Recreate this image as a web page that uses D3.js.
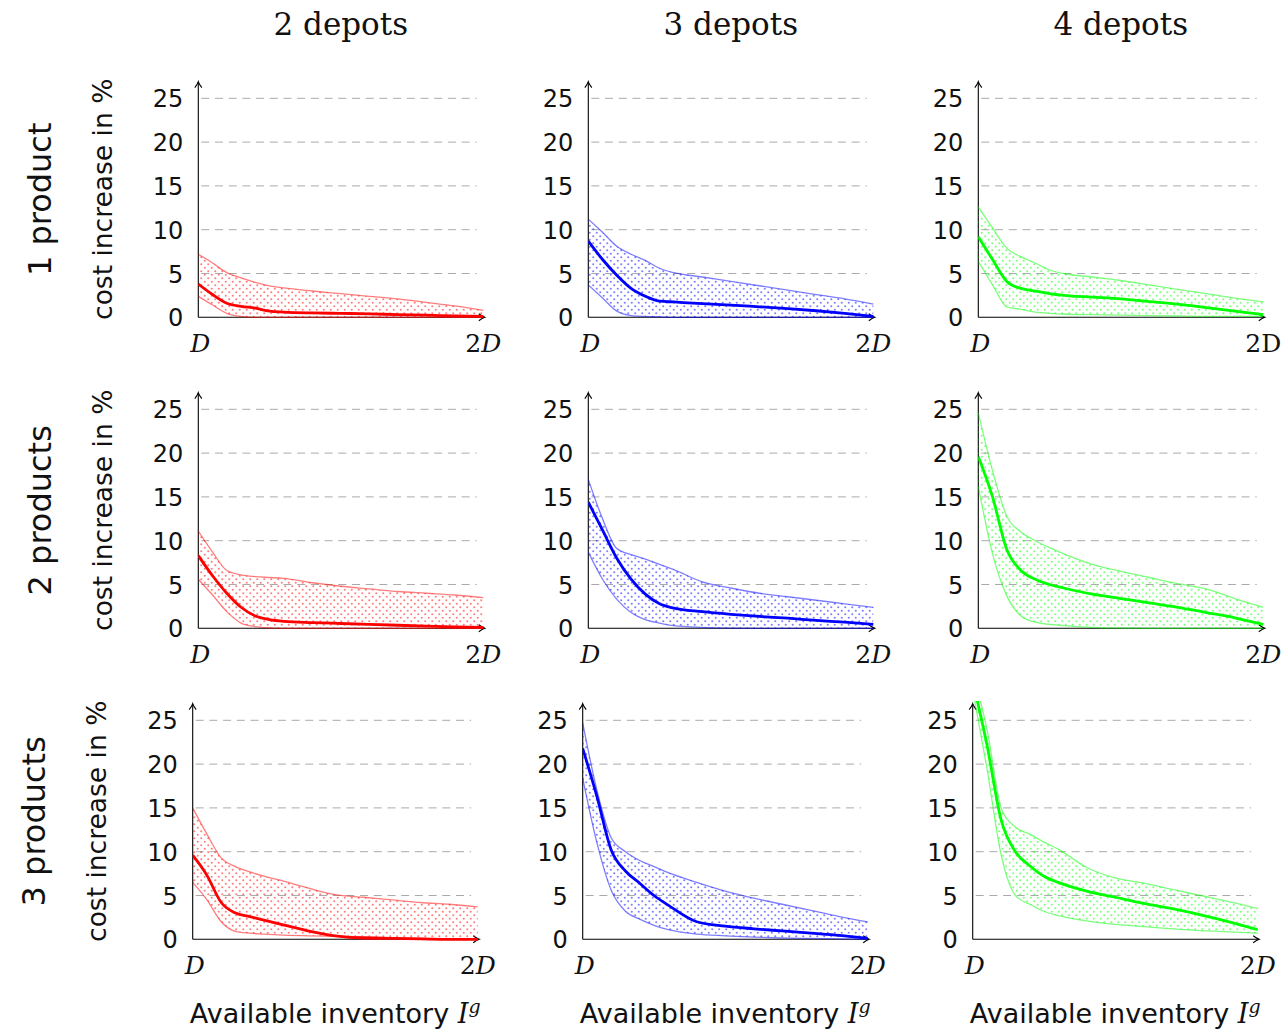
<!DOCTYPE html>
<html><head><meta charset="utf-8">
<script src="https://cdn.jsdelivr.net/npm/d3@7"></script>
<style>body{margin:0;background:#fff}svg{display:block}</style>
</head><body>
<svg id="c" width="1286" height="1036"></svg>
<script>
// ---------- data ----------
const xs = [0, 0.05, 0.1, 0.15, 0.2, 0.25, 0.3, 0.4, 0.5, 0.6, 0.7, 0.8, 0.9, 1];
const depotTitles = ["2 depots", "3 depots", "4 depots"];
const productLabels = ["1 product", "2 products", "3 products"];
const yTicks = [0, 5, 10, 15, 20, 25];
const xTickLabels = ["D", "2D"];
const depotColors = ["#ff0000", "#0000ff", "#00ff00"];

// 1 product
const upper_1p_2d = [7.2, 6.2, 5.1, 4.5, 4.0, 3.6, 3.35, 3.0, 2.7, 2.4, 2.1, 1.7, 1.3, 0.8];
const mean_1p_2d  = [3.8, 2.6, 1.6, 1.25, 1.05, 0.7, 0.6, 0.5, 0.45, 0.4, 0.3, 0.25, 0.15, 0.1];
const lower_1p_2d = [2.4, 1.4, 0.45, 0.1, 0, 0, 0, 0, 0, 0, 0, 0, 0, 0];
const upper_1p_3d = [11.2, 9.7, 8.1, 7.2, 6.5, 5.6, 5.1, 4.6, 4.1, 3.6, 3.1, 2.6, 2.1, 1.5];
const mean_1p_3d  = [8.7, 6.6, 4.8, 3.3, 2.4, 1.85, 1.75, 1.55, 1.4, 1.2, 1.0, 0.75, 0.45, 0.1];
const lower_1p_3d = [3.7, 2.2, 0.7, 0.2, 0.1, 0.05, 0, 0, 0, 0, 0, 0, 0, 0];
const upper_1p_4d = [12.6, 10.2, 7.9, 6.9, 6.2, 5.4, 5.0, 4.6, 4.2, 3.7, 3.2, 2.7, 2.2, 1.75];
const mean_1p_4d  = [9.2, 6.6, 4.1, 3.3, 3.0, 2.7, 2.5, 2.3, 2.1, 1.8, 1.5, 1.1, 0.7, 0.3];
const lower_1p_4d = [6.4, 3.7, 1.2, 0.9, 0.6, 0.45, 0.35, 0.3, 0.25, 0.2, 0.15, 0.1, 0.1, 0.1];
// 2 products
const upper_2p_2d = [11.1, 8.7, 6.6, 6.1, 5.9, 5.8, 5.7, 5.2, 4.8, 4.5, 4.2, 4.0, 3.8, 3.5];
const mean_2p_2d  = [8.3, 6.0, 4.0, 2.4, 1.4, 1.0, 0.8, 0.65, 0.55, 0.45, 0.35, 0.25, 0.15, 0.1];
const lower_2p_2d = [5.6, 3.8, 1.9, 0.6, 0.2, 0.05, 0, 0, 0, 0, 0, 0, 0, 0];
const upper_2p_3d = [17.0, 12.5, 9.1, 8.4, 7.9, 7.3, 6.7, 5.3, 4.6, 4.0, 3.6, 3.2, 2.8, 2.4];
const mean_2p_3d  = [14.4, 11.2, 8.0, 5.6, 3.9, 2.8, 2.3, 1.9, 1.6, 1.35, 1.15, 0.9, 0.7, 0.45];
const lower_2p_3d = [8.7, 5.6, 3.3, 1.8, 1.0, 0.6, 0.3, 0.1, 0.02, 0, 0, 0, 0, 0];
const upper_2p_4d = [24.6, 18.0, 12.8, 11.0, 10.0, 9.2, 8.5, 7.3, 6.5, 5.8, 5.1, 4.5, 3.4, 2.4];
const mean_2p_4d  = [19.6, 15.0, 9.0, 6.6, 5.6, 5.0, 4.6, 3.9, 3.4, 2.9, 2.4, 1.8, 1.2, 0.45];
const lower_2p_4d = [16.2, 8.5, 3.7, 1.4, 0.7, 0.45, 0.3, 0.1, 0.02, 0, 0, 0, 0, 0];
// 3 products
const upper_3p_2d = [15.0, 12.0, 9.3, 8.3, 7.7, 7.2, 6.8, 5.9, 5.1, 4.8, 4.5, 4.2, 4.0, 3.7];
const mean_3p_2d  = [9.6, 7.3, 4.2, 3.0, 2.6, 2.2, 1.8, 1.0, 0.4, 0.15, 0.1, 0.05, 0, 0];
const lower_3p_2d = [6.5, 4.5, 2.0, 0.9, 0.7, 0.6, 0.5, 0.4, 0.35, 0.3, 0.2, 0.1, 0.05, 0];
const upper_3p_3d = [24.7, 17.0, 11.6, 10.0, 9.0, 8.3, 7.6, 6.5, 5.5, 4.7, 4.0, 3.3, 2.6, 2.0];
const mean_3p_3d  = [21.8, 16.3, 10.2, 7.8, 6.4, 5.0, 3.9, 2.0, 1.5, 1.2, 0.95, 0.7, 0.45, 0.1];
const lower_3p_3d = [18.4, 11.0, 5.6, 3.2, 2.3, 1.6, 1.1, 0.6, 0.4, 0.25, 0.15, 0.1, 0.05, 0];
const upper_3p_4d = [30.5, 24.0, 15.0, 12.8, 12.0, 11.1, 10.3, 8.2, 7.0, 6.4, 5.7, 5.0, 4.3, 3.5];
const mean_3p_4d  = [29.5, 22.2, 13.6, 10.0, 8.4, 7.2, 6.5, 5.5, 4.8, 4.1, 3.5, 2.8, 2.0, 1.1];
const lower_3p_4d = [28.5, 19.5, 9.6, 5.0, 4.0, 3.2, 2.7, 2.1, 1.7, 1.45, 1.2, 1.0, 0.85, 0.7];

const panels = [
  {row:0,col:0,upper:upper_1p_2d,mean:mean_1p_2d,lower:lower_1p_2d},
  {row:0,col:1,upper:upper_1p_3d,mean:mean_1p_3d,lower:lower_1p_3d},
  {row:0,col:2,upper:upper_1p_4d,mean:mean_1p_4d,lower:lower_1p_4d,upright2D:true},
  {row:1,col:0,upper:upper_2p_2d,mean:mean_2p_2d,lower:lower_2p_2d},
  {row:1,col:1,upper:upper_2p_3d,mean:mean_2p_3d,lower:lower_2p_3d},
  {row:1,col:2,upper:upper_2p_4d,mean:mean_2p_4d,lower:lower_2p_4d},
  {row:2,col:0,upper:upper_3p_2d,mean:mean_3p_2d,lower:lower_3p_2d},
  {row:2,col:1,upper:upper_3p_3d,mean:mean_3p_3d,lower:lower_3p_3d},
  {row:2,col:2,upper:upper_3p_4d,mean:mean_3p_4d,lower:lower_3p_4d}
];

// ---------- layout ----------
const colX0 = [198.3, 588.3, 978.3];
const rowY0 = [317.3, 628.3, 939.3];
const rowShift = [0, 0, -5.6];
const plotW = 285;
const pxPerUnit = 8.76;
const yMax = 27.2;
const SANS = "'DejaVu Sans', sans-serif";
const SERIF = "'DejaVu Serif', serif";

const svg = d3.select("#c");
const defs = svg.append("defs");

depotColors.forEach((c, i) => {
  const p = defs.append("pattern").attr("id", "dots" + i)
    .attr("patternUnits", "userSpaceOnUse").attr("width", 7).attr("height", 7);
  p.append("circle").attr("cx", 1.75).attr("cy", 1.75).attr("r", 1.05).attr("fill", c).attr("fill-opacity", 0.5);
  p.append("circle").attr("cx", 5.25).attr("cy", 5.25).attr("r", 1.05).attr("fill", c).attr("fill-opacity", 0.5);
});

function arrowPath(x, y, dir) {
  if (dir === "up") return `M${x-3.5},${y+6} Q${x-0.8},${y+2.5} ${x},${y} Q${x+0.8},${y+2.5} ${x+3.5},${y+6}`;
  return `M${x-6},${y-3.5} Q${x-2.5},${y-0.8} ${x},${y} Q${x-2.5},${y+0.8} ${x-6},${y+3.5}`;
}

// column titles
depotTitles.forEach((t, c) => {
  svg.append("text").attr("x", colX0[c] + plotW / 2).attr("y", 35)
    .attr("text-anchor", "middle").attr("font-family", SERIF).attr("font-size", 31)
    .attr("fill", "#111").text(t);
});

// row labels and y labels
productLabels.forEach((t, r) => {
  const cy = rowY0[r] - 118;
  svg.append("text").attr("transform", `translate(${51 + rowShift[r]},${cy}) rotate(-90)`)
    .attr("text-anchor", "middle").attr("font-family", SANS).attr("font-size", 32)
    .attr("fill", "#111").text(t);
  svg.append("text").attr("transform", `translate(${112 + rowShift[r]},${cy}) rotate(-90)`)
    .attr("text-anchor", "middle").attr("font-family", SANS).attr("font-size", 26.5)
    .attr("fill", "#111").text("cost increase in %");
});

// bottom labels
depotTitles.forEach((t, c) => {
  const tx = svg.append("text").attr("x", colX0[c] + rowShift[2] + plotW / 2).attr("y", 1023)
    .attr("text-anchor", "middle").attr("font-family", SANS).attr("font-size", 27).attr("fill", "#111");
  tx.append("tspan").text("Available inventory ");
  tx.append("tspan").attr("font-family", SERIF).attr("font-style", "italic").text("I");
  tx.append("tspan").attr("font-family", SERIF).attr("font-style", "italic").attr("font-size", 19).attr("dy", -10).text("g");
});

panels.forEach((p, i) => {
  const x0 = colX0[p.col] + rowShift[p.row];
  const y0 = rowY0[p.row];
  const color = depotColors[p.col];
  const x = d3.scaleLinear().domain([0, 1]).range([x0, x0 + plotW]);
  const y = d3.scaleLinear().domain([0, yMax]).range([y0, y0 - yMax * pxPerUnit]);
  const g = svg.append("g");

  // grid
  g.selectAll("line.grid").data(yTicks.filter(v => v > 0)).join("line")
    .attr("x1", x(0)).attr("x2", x(0.977)).attr("y1", d => y(d)).attr("y2", d => y(d))
    .attr("stroke", "#aaaaaa").attr("stroke-width", 1).attr("stroke-dasharray", "8,5.7")
    .attr("stroke-dashoffset", -3);

  // y tick labels via d3 axis
  const ax = g.append("g").attr("transform", `translate(${x0},0)`)
    .call(d3.axisLeft(y).tickValues(yTicks).tickSize(0).tickPadding(15));
  ax.select(".domain").remove();
  ax.selectAll("text").attr("font-family", SANS).attr("font-size", 24).attr("fill", "#111").attr("dy", "0.36em");

  // axes lines
  const yTop = y(26.9);
  g.append("line").attr("x1", x0).attr("x2", x0).attr("y1", y0).attr("y2", yTop + 0.5)
    .attr("stroke", "#000").attr("stroke-width", 1.1);
  g.append("path").attr("d", arrowPath(x0, yTop, "up")).attr("fill", "none").attr("stroke", "#000").attr("stroke-width", 1.1);
  const xEnd = x(1) + 1.5;
  g.append("line").attr("x1", x0).attr("x2", xEnd - 0.5).attr("y1", y0).attr("y2", y0)
    .attr("stroke", "#000").attr("stroke-width", 1.1);
  g.append("path").attr("d", arrowPath(xEnd, y0, "right")).attr("fill", "none").attr("stroke", "#000").attr("stroke-width", 1.1);

  // x labels
  const lbl0 = g.append("text").attr("x", x(0) + 2).attr("y", y0 + 35).attr("text-anchor", "middle")
    .attr("font-family", SERIF).attr("font-size", 25).attr("fill", "#111");
  lbl0.append("tspan").attr("font-style", "italic").text(xTickLabels[0]);
  const lbl1 = g.append("text").attr("x", x(1)).attr("y", y0 + 35).attr("text-anchor", "middle")
    .attr("font-family", SERIF).attr("font-size", 25).attr("fill", "#111");
  lbl1.append("tspan").text(xTickLabels[1].slice(0, 1));
  lbl1.append("tspan").attr("font-style", p.upright2D ? "normal" : "italic").text(xTickLabels[1].slice(1));

  // clip
  const clipId = "clip" + i;
  defs.append("clipPath").attr("id", clipId).append("rect")
    .attr("x", x0).attr("y", y(yMax)).attr("width", plotW + 2).attr("height", y0 - y(yMax) + 2);
  const dg = g.append("g").attr("clip-path", `url(#${clipId})`);

  const pts = xs.map((v, k) => ({x: v, lo: p.lower[k], hi: p.upper[k], m: p.mean[k]}));
  const area = d3.area().x(d => x(d.x)).y0(d => y(d.lo)).y1(d => y(d.hi)).curve(d3.curveMonotoneX);
  const lineOf = key => d3.line().x(d => x(d.x)).y(d => y(d[key])).curve(d3.curveMonotoneX);

  dg.append("path").attr("d", area(pts)).attr("fill", `url(#dots${p.col})`);
  ["hi", "lo"].forEach(k => {
    dg.append("path").attr("d", lineOf(k)(pts)).attr("fill", "none")
      .attr("stroke", color).attr("stroke-opacity", 0.5).attr("stroke-width", 1.3);
  });
  dg.append("path").attr("d", lineOf("m")(pts)).attr("fill", "none")
    .attr("stroke", color).attr("stroke-width", 2.8).attr("stroke-linejoin", "round");
});
</script>
</body></html>
